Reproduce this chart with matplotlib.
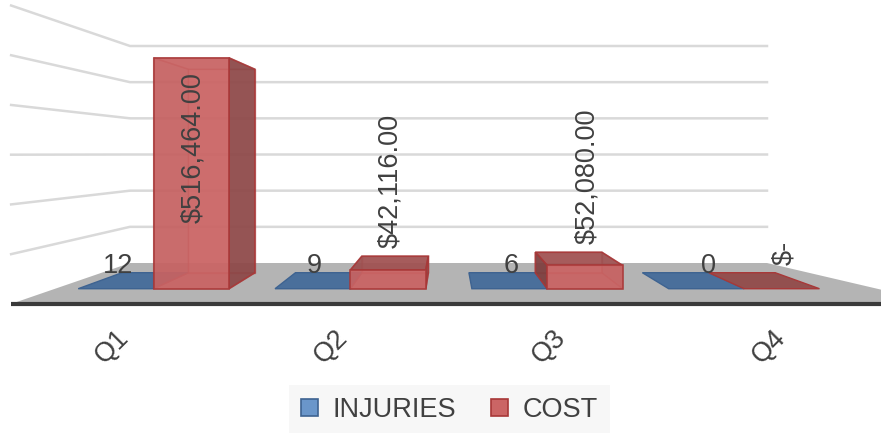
import matplotlib
matplotlib.use('Agg')
import matplotlib.pyplot as plt
from matplotlib.patches import Polygon, Patch

plt.rcParams['font.family'] = ['Liberation Sans', 'DejaVu Sans']

# --------------------------
# data
# --------------------------
quarters = ['Q1', 'Q2', 'Q3', 'Q4']
injuries = [12, 9, 6, 0]
cost = [516464.00, 42116.00, 52080.00, 0.00]
series_names = ['INJURIES', 'COST']
y_max = 600000
y_step = 100000

# --------------------------
# fake 3D view (Excel-like perspective), all in pixel units
# --------------------------
W, H = 881, 433
CX, CY = 447, 154          # vanishing point
S_FRONT = 1.375            # scale of the front edge of the floor
BACK_X0, BACK_X1 = 130, 767
FLOOR_Y, TOP_Y = 263, 46
Z0, Z1 = 0.30, 0.70        # bar depth range (0 front, 1 back)
TXT = '#404040'
FS = 19.5


def val_y(v):
    return FLOOR_Y - v / y_max * (FLOOR_Y - TOP_Y)


def proj(X, Y, z):
    s = S_FRONT / (1 + (S_FRONT - 1) * z)
    return CX + (X - CX) * s, CY + (Y - CY) * s


fig = plt.figure(figsize=(W / 100, H / 100), dpi=100)
ax = fig.add_axes([0, 0, 1, 1])
ax.set_xlim(0, W)
ax.set_ylim(H, 0)
ax.axis('off')

# gridlines on back and side wall
v = y_step
while v <= y_max:
    Y = val_y(v)
    p0 = proj(BACK_X0, Y, 0)
    p1 = proj(BACK_X0, Y, 1)
    p2 = proj(BACK_X1, Y, 1)
    ax.plot([p0[0], p1[0], p2[0]], [p0[1], p1[1], p2[1]], color='#D9D9D9', lw=1.8, zorder=1)
    v += y_step

# floor
floor = [proj(BACK_X0, FLOOR_Y, 0), proj(BACK_X1 + 40, FLOOR_Y, 0),
         proj(BACK_X1, FLOOR_Y, 1), proj(BACK_X0, FLOOR_Y, 1)]
ax.add_patch(Polygon(floor, closed=True, fc='#B4B4B4', ec='none', zorder=2))
f0 = proj(BACK_X0, FLOOR_Y, 0)
ax.plot([f0[0], W], [f0[1], f0[1]], color='#3A3A3A', lw=3, zorder=3,
        solid_capstyle='butt')

cat_w = (BACK_X1 - BACK_X0) / len(quarters)
bar_w = 61


def draw_box(x0, x1, v, colors, ec, z):
    y0, y1 = FLOOR_Y, val_y(v)
    c = {}
    for xi, xx in (('l', x0), ('r', x1)):
        for yi, yy in (('b', y0), ('t', y1)):
            for zi, zz in (('f', Z0), ('k', Z1)):
                c[xi + yi + zi] = proj(xx, yy, zz)
    faces = {
        'back': ['lbk', 'rbk', 'rtk', 'ltk'],
        'bottom': ['lbf', 'rbf', 'rbk', 'lbk'],
        'left': ['lbf', 'lbk', 'ltk', 'ltf'],
        'right': ['rbf', 'rbk', 'rtk', 'rtf'],
        'top': ['ltf', 'rtf', 'rtk', 'ltk'],
        'front': ['lbf', 'rbf', 'rtf', 'ltf'],
    }
    visible = ['front']
    if y1 > CY:
        visible.append('top')
    if x0 > CX:
        visible.append('left')
    if x1 < CX:
        visible.append('right')
    hidden = [f for f in faces if f not in visible]
    for f in hidden:
        ax.add_patch(Polygon([c[k] for k in faces[f]], closed=True, fc=colors[f],
                             ec=ec, lw=1.0, alpha=0.5, zorder=z))
    order = [f for f in ('top', 'left', 'right', 'front') if f in visible]
    for f in order:
        ax.add_patch(Polygon([c[k] for k in faces[f]], closed=True, fc=colors[f],
                             ec=ec, lw=1.2, alpha=0.88, zorder=z + 1))
    return c


red_cols = {'front': '#CB6565', 'back': '#C05A5A', 'bottom': '#B05050',
            'left': '#7A3E3E', 'right': '#8B4848', 'top': '#9E5151'}

for i, q in enumerate(quarters):
    xc = BACK_X0 + (i + 0.5) * cat_w
    # injuries (same value axis -> practically flat)
    yb = val_y(injuries[i])
    blue = [proj(xc - bar_w, yb, Z0), proj(xc, yb, Z0), proj(xc, yb, Z1), proj(xc - bar_w, yb, Z1)]
    ax.add_patch(Polygon(blue, closed=True, fc='#4A6F9B', ec='#3E6391', lw=1, zorder=4))
    # cost
    if cost[i] > 0:
        draw_box(xc, xc + bar_w, cost[i], red_cols, '#A83838', 5 + i)
    else:
        yr = val_y(cost[i])
        red = [proj(xc, yr, Z0), proj(xc + bar_w, yr, Z0), proj(xc + bar_w, yr, Z1), proj(xc, yr, Z1)]
        ax.add_patch(Polygon(red, closed=True, fc='#93504F', ec='#A83838', lw=1, zorder=5))

    # injuries label
    lx, _ = proj(xc - bar_w / 2, yb, Z0)
    _, ly = proj(xc - bar_w / 2, yb, Z1)
    ax.text(lx + 2, ly, str(injuries[i]), ha='center', va='baseline', fontsize=FS,
            color=TXT, zorder=20)

    # cost label
    lbl = '$-' if cost[i] == 0 else f'${cost[i]:,.2f}'
    rx, ry_front = proj(xc + bar_w / 2, val_y(cost[i]), Z0)
    _, ry_back = proj(xc + bar_w / 2, val_y(cost[i]), Z1)
    if cost[i] > 0.5 * y_max:
        ax.text(rx + 2, ry_front + 14, lbl, rotation=90, ha='center', va='top',
                fontsize=FS, color=TXT, zorder=20)
    else:
        ax.text(rx + 2, ry_back - 8, lbl, rotation=90, ha='center', va='bottom',
                fontsize=FS, color=TXT, zorder=20)

    # category label
    tx, ty = proj(xc, FLOOR_Y, 0)
    ax.text(tx + 13, ty + 21, q, rotation=45, ha='right', va='top', fontsize=FS,
            color=TXT, zorder=20)

# legend
handles = [Patch(fc='#6A96CA', ec='#3E6391', lw=1.2),
           Patch(fc='#CB6565', ec='#A83838', lw=1.2)]
leg = fig.legend(handles, series_names, loc='center', bbox_to_anchor=(449.5 / W, 1 - 410 / H),
                 ncol=2, frameon=True, fancybox=False, facecolor='#F7F7F7', edgecolor='none',
                 fontsize=FS, handlelength=0.6, handleheight=0.6, handletextpad=0.55,
                 columnspacing=1.3, borderpad=0.45, labelcolor=TXT)
leg.get_frame().set_alpha(1)

fig.savefig('out.png', dpi=100)
